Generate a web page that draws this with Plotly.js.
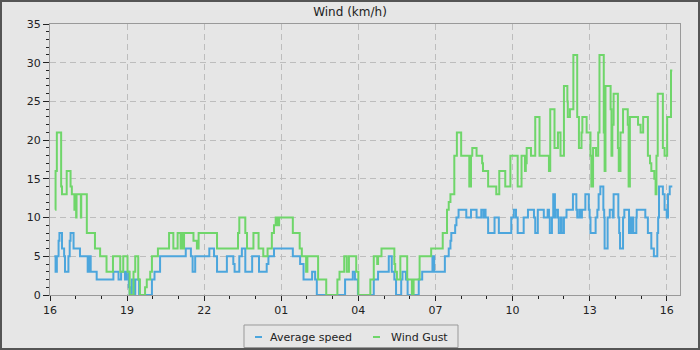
<!DOCTYPE html>
<html>
<head>
<meta charset="utf-8">
<script src="https://cdn.plot.ly/plotly-3.0.1.min.js"></script>
<style>
  html, body { margin: 0; padding: 0; background: #e6e6e6; }
  #chart { width: 696px; height: 346px; border: 2px solid #555; }
</style>
</head>
<body>
<div id="chart"></div>
<script>
// Series start: 16:00 on day one. Times are minutes elapsed since then.
var startTime = '2024-05-01T16:00:00Z';
var endMinute = 1471;

var seriesNames = ['Average speed', 'Wind Gust'];

var avgMinutes = [10,13,16,20,22,28,33,35,43,46,48,55,70,88,92,95,109,148,160,166,175,179,184,186,191,196,199,208,238,244,257,317,329,333,339,372,383,390,413,428,431,442,448,456,472,488,506,510,523,567,584,592,612,619,623,689,707,712,719,756,766,791,798,804,808,820,823,831,835,861,869,893,897,922,931,935,937,946,949,954,972,983,996,1007,1012,1014,1017,1023,1038,1048,1077,1083,1088,1092,1106,1116,1130,1133,1139,1153,1162,1165,1167,1172,1175,1179,1181,1186,1188,1193,1195,1200,1206,1221,1229,1231,1236,1238,1242,1250,1258,1260,1262,1274,1278,1281,1285,1292,1294,1295,1302,1307,1314,1316,1327,1329,1331,1338,1341,1352,1356,1357,1360,1362,1369,1370,1390,1396,1404,1410,1418,1420,1422,1431,1435,1440,1443,1447,1453];
var avgSpeed   = [5,3,5,7,8,6,5,3,5,7,8,6,5,3,5,3,2,3,2,3,2,3,1,0,2,0,2,0,2,3,5,6,5,3,5,6,5,3,5,4,3,5,6,3,5,3,4,5,6,5,4,2,3,2,0,2,3,2,0,2,3,5,3,2,0,2,3,2,0,2,3,5,3,5,6,7,8,9,10,11,10,11,10,11,10,11,10,8,10,8,10,11,10,8,10,11,10,8,11,10,11,10,8,10,13,10,11,10,8,10,8,10,11,13,11,10,11,10,11,13,11,10,8,10,11,13,14,11,10,6,10,11,10,13,10,8,6,10,11,8,10,8,10,8,10,11,10,8,6,5,8,10,14,13,11,10,13,14,14];

var gustMinutes = [12,13,16,26,28,39,48,51,57,58,61,62,72,73,86,105,117,132,147,164,171,181,186,195,199,206,210,222,226,234,238,252,278,288,298,305,307,310,313,335,343,347,390,439,442,456,460,475,487,498,508,518,523,527,531,535,567,583,588,598,601,626,645,671,676,687,693,698,715,720,748,756,764,766,774,804,806,810,818,834,845,849,863,890,917,927,931,935,944,950,960,979,983,986,996,1009,1011,1023,1042,1049,1063,1075,1092,1101,1109,1111,1113,1123,1133,1143,1165,1168,1178,1186,1192,1200,1208,1209,1214,1222,1231,1235,1241,1243,1253,1262,1264,1268,1275,1280,1283,1293,1295,1297,1309,1311,1313,1316,1326,1328,1332,1338,1349,1351,1354,1373,1379,1385,1396,1401,1404,1411,1414,1416,1419,1431,1435,1441,1450,1453];
var gustSpeed   = [11,16,21,14,13,16,14,13,11,13,10,13,10,13,8,6,5,3,5,3,5,3,0,3,5,2,0,1,2,3,5,6,8,6,8,6,8,6,8,7,6,8,6,8,10,8,6,8,6,5,6,8,9,10,9,10,8,6,5,3,5,2,0,2,3,5,3,5,3,0,2,5,4,5,6,4,3,2,5,2,0,2,5,6,8,11,12,13,18,21,18,14,18,19,18,17,16,14,13,16,14,18,14,18,16,17,19,18,23,18,16,24,19,21,18,27,25,23,24,31,23,19,21,23,21,18,14,19,18,21,31,21,16,27,24,18,22,26,19,16,21,24,22,14,23,22,21,23,18,17,16,15,13,18,26,19,18,23,29,29];

var lineColors = ['#4ca6dd', '#6fd66a'];

function toDate(m) {
  var d = new Date(Date.parse(startTime) + m * 60000);
  return d.toISOString().slice(0, 19).replace('T', ' ');
}

var traces = [
  { x: avgMinutes.map(toDate), y: avgSpeed, name: seriesNames[0], type: 'scatter', mode: 'lines',
    line: { shape: 'hv', color: lineColors[0], width: 2 }, hoverinfo: 'x+y' },
  { x: gustMinutes.map(toDate), y: gustSpeed, name: seriesNames[1], type: 'scatter', mode: 'lines',
    line: { shape: 'hv', color: lineColors[1], width: 2 }, hoverinfo: 'x+y' }
];

// geometry helpers for the hand-drawn legend (image pixels -> paper coords)
var W = 696, H = 346, L = 48, R = 18, T = 22, B = 53;
var pw = W - L - R, ph = H - T - B;
function px(xImg) { return (xImg - 2 - L) / pw; }
function py(yImg) { return 1 - (yImg - 2 - T) / ph; }

var legendY = 337;
var layout = {
  width: W, height: H,
  margin: { l: L, r: R, t: T, b: B, pad: 0 },
  paper_bgcolor: '#e6e6e6',
  plot_bgcolor: '#e6e6e6',
  font: { family: 'DejaVu Sans, sans-serif', size: 11, color: '#222' },
  showlegend: false,
  title: { text: 'Wind (km/h)', font: { size: 12, color: '#222' }, x: 0.5, xref: 'container',
           y: 1 - 10 / H, yref: 'container', yanchor: 'middle' },
  xaxis: {
    type: 'date', range: [toDate(0), toDate(endMinute)],
    tick0: toDate(0), dtick: 3 * 3600000, tickformat: '%H',
    ticks: 'outside', ticklen: 5, tickcolor: '#222', tickwidth: 1,
    showline: true, linecolor: '#999', linewidth: 1, mirror: true,
    showgrid: true, gridcolor: '#bdbdbd', griddash: '6px,4px', gridwidth: 1,
    zeroline: false,
    minor: { dtick: 3600000, ticks: 'outside', ticklen: 3, tickcolor: '#222', showgrid: false },
    fixedrange: true
  },
  yaxis: {
    range: [0, 35], dtick: 5, tick0: 0,
    ticks: 'outside', ticklen: 6, tickcolor: '#222', tickwidth: 1,
    showline: true, linecolor: '#999', linewidth: 1, mirror: true,
    showgrid: true, gridcolor: '#bdbdbd', griddash: '6px,4px', gridwidth: 1,
    zeroline: false,
    minor: { dtick: 1, ticks: 'outside', ticklen: 3, tickcolor: '#222', showgrid: false },
    fixedrange: true
  },
  shapes: [
    { type: 'rect', xref: 'paper', yref: 'paper', x0: px(244), x1: px(458), y0: py(325), y1: py(347.5),
      line: { color: '#999', width: 1 }, fillcolor: '#e6e6e6' },
    { type: 'line', xref: 'paper', yref: 'paper', x0: px(255), x1: px(262), y0: py(legendY), y1: py(legendY),
      line: { color: lineColors[0], width: 2 } },
    { type: 'line', xref: 'paper', yref: 'paper', x0: px(373), x1: px(380), y0: py(legendY), y1: py(legendY),
      line: { color: lineColors[1], width: 2 } }
  ],
  annotations: [
    { xref: 'paper', yref: 'paper', x: px(268), y: py(legendY), xanchor: 'left', yanchor: 'middle',
      text: seriesNames[0], showarrow: false, font: { size: 11, color: '#222' } },
    { xref: 'paper', yref: 'paper', x: px(389), y: py(legendY), xanchor: 'left', yanchor: 'middle',
      text: seriesNames[1], showarrow: false, font: { size: 11, color: '#222' } }
  ]
};

Plotly.newPlot('chart', traces, layout, { staticPlot: true, displayModeBar: false });
</script>
</body>
</html>
